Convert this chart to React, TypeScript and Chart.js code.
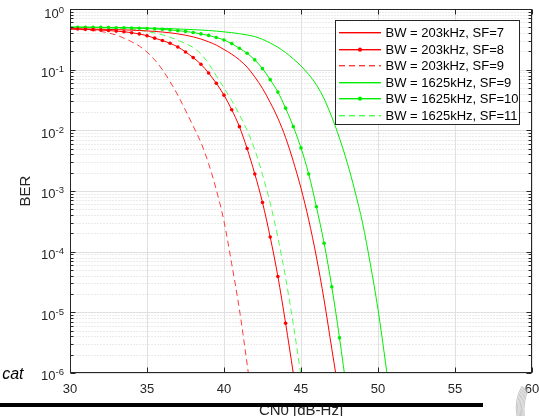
import { useEffect, useRef } from 'react';
import { Chart, registerables } from 'chart.js';

Chart.register(...registerables);

// ---------------- data ----------------
const cn0 = [30, 30.5, 31, 31.5, 32, 32.5, 33, 33.5, 34, 34.5, 35, 35.5, 36, 36.5, 37, 37.5, 38, 38.5, 39, 39.5,
  40, 40.5, 41, 41.5, 42, 42.5, 43, 43.5, 44, 44.5, 45, 45.5, 46, 46.5, 47, 47.5, 48, 48.5, 49, 49.5, 50, 50.5, 51];

const berBw203Sf7 = [0.473, 0.471, 0.469, 0.467, 0.463, 0.46, 0.457, 0.453, 0.448, 0.442, 0.435, 0.427, 0.417, 0.405,
  0.389, 0.37, 0.347, 0.32, 0.288, 0.254, 0.215, 0.18, 0.145, 0.11, 0.0759, 0.049, 0.0288, 0.0158, 0.00759, 0.00309,
  0.00111, 3.35e-4, 8.2e-5, 1.6e-5, 2.5e-6, 4.0e-7];

const berBw203Sf8 = [0.473, 0.468, 0.462, 0.457, 0.45, 0.442, 0.432, 0.422, 0.407, 0.389, 0.363, 0.331, 0.302, 0.272,
  0.237, 0.196, 0.158, 0.123, 0.0881, 0.0596, 0.038, 0.0219, 0.0115, 0.00501, 0.00191, 6.46e-4, 1.74e-4, 3.89e-5,
  6.6e-6, 9.8e-7, 1.26e-7];

const berBw203Sf9 = [0.468, 0.462, 0.452, 0.442, 0.427, 0.403, 0.372, 0.331, 0.288, 0.245, 0.195, 0.145, 0.1, 0.0631,
  0.038, 0.0214, 0.0117, 0.00631, 0.00282, 0.00105, 3.16e-4, 6.3e-5, 1.12e-5, 1.41e-6, 1.58e-7];

const berBw1625Sf9 = [0.501, 0.501, 0.501, 0.5, 0.499, 0.498, 0.495, 0.494, 0.492, 0.49, 0.486, 0.483, 0.479, 0.474,
  0.469, 0.463, 0.457, 0.45, 0.442, 0.432, 0.42, 0.407, 0.392, 0.373, 0.351, 0.316, 0.275, 0.234, 0.191, 0.151, 0.115,
  0.0832, 0.0562, 0.0331, 0.0166, 0.00741, 0.00295, 0.001, 2.95e-4, 6.31e-5, 1.12e-5, 1.41e-6, 1.58e-7];

const berBw1625Sf10 = [0.501, 0.501, 0.501, 0.499, 0.497, 0.494, 0.492, 0.49, 0.486, 0.482, 0.476, 0.47, 0.461, 0.452,
  0.44, 0.427, 0.411, 0.389, 0.367, 0.339, 0.309, 0.269, 0.225, 0.186, 0.145, 0.104, 0.0684, 0.0427, 0.0232, 0.0115,
  0.00513, 0.00191, 5.5e-4, 1.38e-4, 2.63e-5, 3.8e-6, 4.5e-7];

const berBw1625Sf11 = [0.501, 0.5, 0.498, 0.494, 0.49, 0.484, 0.479, 0.471, 0.462, 0.447, 0.427, 0.403, 0.376, 0.343,
  0.305, 0.269, 0.232, 0.182, 0.126, 0.0794, 0.0501, 0.0309, 0.0182, 0.01, 0.00479, 0.00186, 6.31e-4, 1.7e-4, 3.72e-5,
  6.31e-6, 8.9e-7, 1.0e-7];

const seriesLabels = [
  'BW = 203kHz, SF=7',
  'BW = 203kHz, SF=8',
  'BW = 203kHz, SF=9',
  'BW = 1625kHz, SF=9',
  'BW = 1625kHz, SF=10',
  'BW = 1625kHz, SF=11',
];

const xTicks = [30, 35, 40, 45, 50, 55, 60];
const yExponents = [0, -1, -2, -3, -4, -5, -6];
const yMinorMantissas = [2, 3, 4, 5, 6, 7, 8, 9];
const xTitle = 'CN0 [dB-Hz]';
const yTitle = 'BER';
const clippedText = 'cat';

// ---------------- styling ----------------
const FONT = '"Liberation Sans", Arial, Helvetica, sans-serif';
const AXIS = '#262626';
const seriesColors = ['#ff0000', '#ff0000', '#ff3b3b', '#00ee00', '#00ee00', '#4dff4d'];
const seriesDashes: number[][] = [[], [], [6, 4], [], [], [6, 4]];
const seriesMarkers = [0, 1.8, 0, 0, 1.8, 0];

function toPoints(vals: number[]) {
  return vals.map((v, i) => ({ x: cn0[i], y: v }));
}

const decorPlugin = {
  id: 'decor',
  beforeDatasetsDraw(chart: any) {
    const { ctx, chartArea: a, scales } = chart;
    const x = scales.x;
    const y = scales.y;
    const L = Math.round(a.left) + 0.5;
    const R = Math.round(a.right) - 0.5;
    const line = (x1: number, y1: number, x2: number, y2: number) => {
      ctx.beginPath();
      ctx.moveTo(x1, y1);
      ctx.lineTo(x2, y2);
      ctx.stroke();
    };
    ctx.save();
    ctx.lineWidth = 1;
    ctx.strokeStyle = '#d6d6d6';
    ctx.setLineDash([1, 2]);
    for (const e of yExponents) {
      if (e === 0) continue;
      for (const m of yMinorMantissas) {
        const py = Math.round(y.getPixelForValue(m * Math.pow(10, e))) + 0.5;
        line(L, py, R, py);
      }
    }
    ctx.setLineDash([]);
    ctx.strokeStyle = '#e0e0e0';
    for (const e of yExponents) {
      const py = Math.round(y.getPixelForValue(Math.pow(10, e))) + 0.5;
      line(L, py, R, py);
    }
    for (const v of xTicks) {
      const px = Math.round(x.getPixelForValue(v)) + 0.5;
      line(px, a.top, px, a.bottom);
    }
    ctx.restore();
  },
  afterDraw(chart: any) {
    const { ctx, chartArea: a, scales } = chart;
    const x = scales.x;
    const y = scales.y;
    const L = Math.round(a.left) + 0.5;
    const R = Math.round(a.right) - 0.5;
    const T = Math.round(a.top) + 0.5;
    const B = Math.round(a.bottom) - 0.5;
    const line = (x1: number, y1: number, x2: number, y2: number) => {
      ctx.beginPath();
      ctx.moveTo(x1, y1);
      ctx.lineTo(x2, y2);
      ctx.stroke();
    };
    ctx.save();
    ctx.lineWidth = 1;
    ctx.setLineDash([]);
    ctx.strokeStyle = AXIS;
    ctx.strokeRect(L, T, R - L, B - T);
    for (const v of xTicks) {
      const px = Math.round(x.getPixelForValue(v)) + 0.5;
      line(px, B, px, B - 5);
      line(px, T, px, T + 5);
    }
    for (const e of yExponents) {
      const py = Math.round(y.getPixelForValue(Math.pow(10, e))) + 0.5;
      line(L, py, L + 5, py);
      line(R, py, R - 5, py);
      if (e === 0) continue;
      for (const m of yMinorMantissas) {
        const pm = Math.round(y.getPixelForValue(m * Math.pow(10, e))) + 0.5;
        line(L, pm, L + 3, pm);
        line(R, pm, R - 3, pm);
      }
    }
    ctx.fillStyle = AXIS;
    ctx.font = `13px ${FONT}`;
    ctx.textAlign = 'center';
    ctx.textBaseline = 'alphabetic';
    for (const v of xTicks) {
      ctx.fillText(String(v), x.getPixelForValue(v), 392.5);
    }
    for (const e of yExponents) {
      const py = y.getPixelForValue(Math.pow(10, e)) + (e === 0 ? 2 : 0);
      const expStr = String(e);
      ctx.font = `9.5px ${FONT}`;
      ctx.textAlign = 'right';
      const expW = ctx.measureText(expStr).width;
      ctx.fillText(expStr, 64, py + 2.2);
      ctx.font = `13px ${FONT}`;
      ctx.fillText('10', 64 - expW, py + 7.2);
    }
    ctx.save();
    ctx.translate(29.5, (a.top + a.bottom) / 2);
    ctx.rotate(-Math.PI / 2);
    ctx.font = `15px ${FONT}`;
    ctx.textAlign = 'center';
    ctx.textBaseline = 'alphabetic';
    ctx.fillText(yTitle, 0, 0);
    ctx.restore();
    ctx.font = `15px ${FONT}`;
    ctx.textAlign = 'center';
    ctx.textBaseline = 'alphabetic';
    ctx.fillText(xTitle, (a.left + a.right) / 2, 414.5);

    // legend
    const lx = 335.5, ly = 20.5, lw = 184, lh = 104;
    ctx.fillStyle = '#ffffff';
    ctx.fillRect(lx, ly, lw, lh);
    ctx.strokeStyle = AXIS;
    ctx.lineWidth = 1;
    ctx.strokeRect(lx, ly, lw, lh);
    seriesLabels.forEach((label, i) => {
      const top = Math.round(32 + i * 16.5);
      ctx.fillStyle = seriesColors[i];
      const dash = seriesDashes[i];
      if (dash.length === 0) {
        ctx.fillRect(339, top, 42, 1.4);
      } else {
        for (let sx = 339; sx < 381; sx += dash[0] + dash[1]) {
          ctx.fillRect(sx, top, Math.min(dash[0], 381 - sx), 1.4);
        }
      }
      if (seriesMarkers[i] > 0) {
        ctx.beginPath();
        ctx.arc(360, top + 0.7, seriesMarkers[i] + 0.3, 0, Math.PI * 2);
        ctx.fill();
      }
      ctx.fillStyle = '#000000';
      ctx.font = `13px ${FONT}`;
      ctx.textAlign = 'left';
      ctx.textBaseline = 'middle';
      ctx.fillText(label, 385.5, top + 1);
    });

    // clipped page content around the figure
    ctx.fillStyle = '#000000';
    ctx.font = `italic 16px ${FONT}`;
    ctx.textAlign = 'right';
    ctx.textBaseline = 'alphabetic';
    ctx.fillText(clippedText, 23.5, 379);
    ctx.fillRect(0, 403, 483, 4);

    // small grey ornament at the lower right corner
    ctx.strokeStyle = '#b8b8b8';
    ctx.lineWidth = 0.8;
    for (let k = 0; k < 7; k++) {
      ctx.beginPath();
      ctx.moveTo(517 + k * 1.2, 416);
      ctx.quadraticCurveTo(514 + k * 1.5, 400, 522 + k * 1.1, 386 + k * 0.6);
      ctx.stroke();
    }
    ctx.restore();
  },
};

export default function App() {
  const ref = useRef<HTMLCanvasElement | null>(null);
  useEffect(() => {
    if (!ref.current) return;
    const seriesData = [berBw203Sf7, berBw203Sf8, berBw203Sf9, berBw1625Sf9, berBw1625Sf10, berBw1625Sf11];
    const datasets = seriesLabels.map((label, i) => ({
      label,
      data: toPoints(seriesData[i]),
      borderColor: seriesColors[i],
      backgroundColor: seriesColors[i],
      borderWidth: 1,
      borderDash: seriesDashes[i],
      pointRadius: seriesMarkers[i],
      pointBorderWidth: 0,
      pointBackgroundColor: seriesColors[i],
      cubicInterpolationMode: 'monotone',
      fill: false,
    }));
    const chart = new Chart(ref.current, {
      type: 'line',
      data: { datasets: datasets as any },
      options: {
        animation: false,
        responsive: false,
        maintainAspectRatio: false,
        devicePixelRatio: 1,
        events: [],
        layout: { padding: { left: 70, top: 9, right: 7, bottom: 43 } },
        plugins: { legend: { display: false }, tooltip: { enabled: false }, title: { display: false } },
        scales: {
          x: { type: 'linear', min: 30, max: 60, display: false },
          y: { type: 'logarithmic', min: 1e-6, max: 1, display: false },
        },
      },
      plugins: [decorPlugin],
    });
    return () => chart.destroy();
  }, []);
  return (
    <div style={{ position: 'fixed', left: 0, top: 0, width: 539, height: 416, background: '#ffffff' }}>
      <canvas ref={ref} width={539} height={416} style={{ width: 539, height: 416, display: 'block' }} />
    </div>
  );
}
